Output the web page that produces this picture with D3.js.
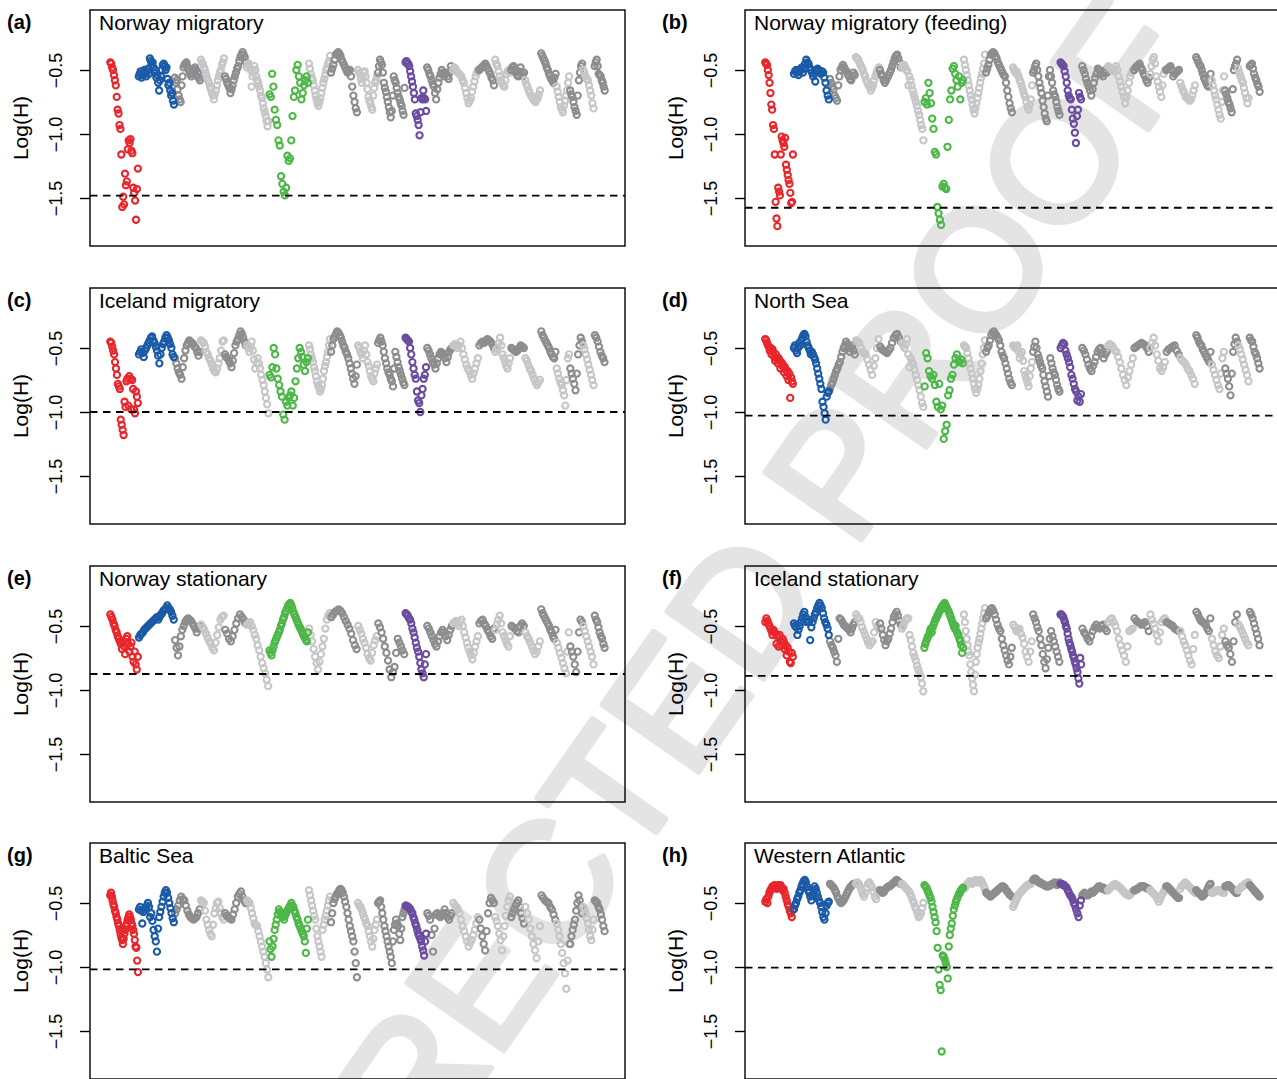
<!DOCTYPE html>
<html><head><meta charset="utf-8">
<script src="https://cdn.jsdelivr.net/npm/d3@7"></script>
<style>body{margin:0;background:#fff}svg{display:block}text{font-family:"Liberation Sans",Arial,Helvetica,sans-serif}</style>
</head><body>
<svg id="chart" width="1277" height="1079"></svg>
<script>
// chromosome (linkage group) lengths, LG1..LG23
const chromLen = [28.5,36,26,24,22,22.5,39.5,22,27,20,27.5,21.5,26,26,16,16,14,16,15.5,13.5,13,11.5,11];
const yTicks = [-0.5,-1.0,-1.5];
const panelIds = ["(a)","(b)","(c)","(d)","(e)","(f)","(g)","(h)"];
const panelTitles = ["Norway migratory","Norway migratory (feeding)","Iceland migratory","North Sea","Norway stationary","Iceland stationary","Baltic Sea","Western Atlantic"];
const thresholds = [-1.482,-1.576,-1.0,-1.029,-0.875,-0.89,-1.018,-1.005];

const panelA = [
[-.44,-.45,-.48,-.50,-.54,-.58,-.62,-.71,-.81,-.84,-.93,-.96,-1.16,-1.57,-1.49,-1.55,-1.31,-1.40,-1.37,-1.12,-1.05,-1.07,-1.04,-1.13,-1.15,-1.42,-1.46,-1.52,-1.67,-1.43,-1.27],
[-.55,-.53,-.51,-.56,-.54,-.52,-.50,-.53,-.55,-.51,-.49,-.53,-.41,-.43,-.46,-.44,-.48,-.52,-.50,-.56,-.54,-.60,-.66,-.58,-.55,-.50,-.46,-.45,-.47,-.50,-.48,-.57,-.62,-.60,-.66,-.70,-.68,-.74,-.77],
[-.56,-.60,-.58,-.65,-.70,-.73,-.75,-.62,-.55,-.48,-.46,-.45,-.44,-.47,-.49,-.51,-.53,-.55,-.53,-.50,-.52,-.48,-.50,-.55,-.52,-.56,-.58],
[-.42,-.44,-.45,-.48,-.50,-.53,-.56,-.58,-.60,-.63,-.65,-.68,-.70,-.73,-.69,-.66,-.62,-.58,-.55,-.52,-.50,-.46,-.44,-.41],
[-.55,-.57,-.60,-.62,-.64,-.68,-.65,-.62,-.58,-.55,-.52,-.49,-.47,-.43,-.40,-.38,-.36,-.38,-.40,-.44],
[-.48,-.46,-.45,-.48,-.50,-.63,-.55,-.52,-.47,-.50,-.55,-.58,-.60,-.63,-.66,-.70,-.72,-.76,-.80,-.83,-.86,-.90,-.94,-.90],
[-.69,-.71,-.53,-.63,-.81,-.89,-.93,-1.05,-1.09,-1.33,-1.39,-1.45,-1.48,-1.42,-1.17,-1.21,-1.19,-1.05,-.86,-.71,-.66,-.50,-.46,-.55,-.60,-.73,-.68,-.62,-.58,-.55,-.60],
[-.45,-.49,-.53,-.56,-.58,-.62,-.66,-.70,-.73,-.76,-.78,-.75,-.72,-.68,-.64,-.60,-.57,-.54,-.50,-.48,-.45,-.43,-.39],
[-.52,-.49,-.46,-.42,-.38,-.37,-.36,-.37,-.39,-.42,-.44,-.46,-.48,-.50,-.52,-.51,-.50,-.55,-.63,-.70,-.75,-.80,-.83],
[-.50,-.52,-.53,-.57,-.60,-.55,-.52,-.51,-.55,-.60,-.65,-.71,-.74,-.76,-.79,-.81,-.70,-.64,-.60,-.58,-.55],
[-.52,-.47,-.42,-.44,-.46,-.52,-.60,-.64,-.67,-.71,-.75,-.79,-.83,-.87,-.82,-.70,-.55,-.58,-.60,-.64,-.68,-.71,-.73,-.76,-.78,-.82,-.85,-.64],
[-.44,-.43,-.45,-.45,-.47,-.51,-.55,-.59,-.63,-.68,-.73,-.84,-.86,-.89,-.93,-1.01,-.83,-.72,-.73,-.66,-.72,-.73,-.82],
[-.48,-.50,-.53,-.55,-.58,-.61,-.63,-.68,-.73,-.65,-.60,-.56,-.53,-.50,-.52,-.55,-.53,-.52,-.55,-.57,-.52,-.47,-.50],
[-.50,-.48,-.49,-.51,-.52,-.53,-.54,-.55,-.58,-.60,-.64,-.68,-.72,-.76,-.74,-.72,-.67,-.63,-.59,-.55,-.52,-.50],
[-.50,-.49,-.48,-.47,-.46,-.45,-.47,-.49,-.51,-.53,-.56,-.58,-.62],
[-.42,-.45,-.47,-.51,-.55,-.58,-.60,-.62,-.63,-.58,-.53,-.51,-.50,-.52],
[-.50,-.48,-.47,-.50,-.52,-.54,-.55,-.51,-.48,-.52,-.55,-.52],
[-.58,-.61,-.63,-.66,-.68,-.70,-.71,-.73,-.74,-.75,-.73,-.72,-.69,-.66],
[-.37,-.39,-.41,-.43,-.45,-.48,-.50,-.53,-.55,-.57,-.58,-.60,-.56,-.53],
[-.63,-.67,-.71,-.75,-.79,-.81,-.83,-.78,-.74,-.70,-.66,-.60,-.55],
[-.66,-.69,-.71,-.75,-.79,-.82,-.85,-.70,-.58,-.52,-.47,-.45],
[-.50,-.52,-.55,-.57,-.58,-.62,-.66,-.70,-.76,-.80],
[-.47,-.44,-.42,-.47,-.53,-.54,-.55,-.58,-.60,-.63,-.66]];

const panelB = [
[-.44,-.45,-.46,-.50,-.54,-.60,-.68,-.77,-.81,-.93,-.96,-1.16,-1.53,-1.66,-1.72,-1.42,-1.45,-1.48,-1.16,-1.02,-1.05,-1.07,-1.10,-1.03,-1.24,-1.28,-1.32,-1.36,-1.39,-1.46,-1.54,-1.53,-1.16],
[-.53,-.51,-.50,-.52,-.54,-.51,-.50,-.48,-.52,-.49,-.45,-.42,-.44,-.45,-.48,-.50,-.52,-.55,-.53,-.59,-.51,-.49,-.50,-.52,-.53,-.51,-.52,-.56,-.60,-.66,-.70,-.73],
[-.57,-.60,-.63,-.65,-.70,-.72,-.74,-.62,-.55,-.50,-.48,-.46,-.48,-.50,-.51,-.53,-.55,-.57,-.58,-.55,-.52,-.54],
[-.40,-.41,-.42,-.44,-.46,-.48,-.50,-.53,-.55,-.58,-.60,-.62,-.63,-.66,-.64,-.62,-.58,-.55,-.52,-.50,-.48],
[-.50,-.53,-.55,-.58,-.60,-.58,-.56,-.54,-.52,-.50,-.47,-.44,-.41,-.39,-.38,-.41,-.44,-.48],
[-.48,-.47,-.46,-.48,-.50,-.51,-.62,-.55,-.58,-.62,-.66,-.69,-.72,-.75,-.78,-.82,-.85,-.89,-.93,-.96,-1.05],
[-.75,-.72,-.77,-.60,-.68,-.76,-.88,-.96,-1.14,-1.16,-1.57,-1.62,-1.67,-1.71,-1.41,-1.39,-1.42,-1.43,-1.10,-.89,-.73,-.66,-.49,-.47,-.53,-.58,-.63,-.55,-.73,-.60,-.58],
[-.42,-.46,-.50,-.54,-.58,-.62,-.66,-.70,-.73,-.77,-.81,-.84,-.80,-.76,-.72,-.68,-.64,-.60,-.56,-.53,-.49,-.45,-.38],
[-.52,-.49,-.46,-.42,-.38,-.37,-.36,-.37,-.39,-.41,-.44,-.46,-.48,-.50,-.52,-.54,-.55,-.60,-.66,-.71,-.76,-.80,-.83],
[-.48,-.50,-.52,-.51,-.53,-.55,-.58,-.60,-.63,-.66,-.69,-.71,-.75,-.79,-.81,-.77,-.73,-.62],
[-.52,-.50,-.47,-.45,-.50,-.55,-.60,-.64,-.68,-.74,-.79,-.84,-.88,-.90,-.70,-.55,-.50,-.55,-.60,-.66,-.69,-.71,-.75,-.79,-.82,-.85],
[-.44,-.45,-.46,-.47,-.51,-.55,-.60,-.66,-.70,-.72,-.73,-.81,-.88,-.92,-.99,-1.07,-.86,-.81,-.68,-.71,-.73],
[-.47,-.50,-.53,-.57,-.60,-.63,-.66,-.70,-.65,-.60,-.56,-.53,-.49,-.50,-.51,-.53,-.55,-.52,-.50,-.52],
[-.47,-.48,-.49,-.50,-.51,-.49,-.47,-.50,-.55,-.59,-.63,-.67,-.71,-.76,-.71,-.66,-.60,-.55,-.52,-.50],
[-.50,-.48,-.47,-.46,-.45,-.48,-.50,-.53,-.55,-.58,-.60,-.56],
[-.53,-.47,-.42,-.40,-.45,-.55,-.59,-.63,-.67,-.71,-.62,-.53,-.50],
[-.50,-.49,-.48,-.47,-.50,-.55,-.53,-.52,-.51,-.50],
[-.60,-.63,-.66,-.68,-.71,-.72,-.73,-.74,-.73,-.70,-.66,-.62],
[-.40,-.42,-.44,-.46,-.47,-.50,-.53,-.56,-.58,-.60,-.62,-.63,-.58,-.53],
[-.58,-.62,-.66,-.70,-.73,-.77,-.81,-.85,-.88,-.75,-.66,-.55],
[-.66,-.69,-.72,-.75,-.77,-.80,-.83,-.65,-.50,-.47,-.45,-.42],
[-.49,-.52,-.55,-.58,-.60,-.64,-.68,-.72,-.76,-.72],
[-.47,-.46,-.45,-.49,-.53,-.56,-.58,-.61,-.63,-.67]];

const panelC = [
[-.45,-.46,-.49,-.52,-.55,-.61,-.66,-.71,-.78,-.80,-.82,-1.06,-1.10,-1.14,-1.18,-.92,-.96,-.76,-.74,-.95,-.72,-.74,-.98,-.75,-.82,-.98,-1.01,-.84,-.88,-.93],
[-.55,-.53,-.51,-.54,-.57,-.52,-.50,-.48,-.46,-.44,-.42,-.41,-.44,-.46,-.49,-.52,-.56,-.62,-.55,-.50,-.47,-.45,-.42,-.40,-.42,-.44,-.47,-.50,-.55,-.57],
[-.58,-.62,-.66,-.69,-.71,-.74,-.65,-.58,-.52,-.48,-.46,-.44,-.45,-.46,-.47,-.49,-.50,-.53,-.56,-.53],
[-.44,-.45,-.46,-.49,-.53,-.55,-.58,-.60,-.63,-.66,-.68,-.69,-.66,-.62,-.58,-.52,-.45,-.44],
[-.55,-.57,-.58,-.60,-.62,-.65,-.60,-.54,-.48,-.45,-.43,-.40,-.37,-.39,-.42,-.45,-.48],
[-.48,-.50,-.53,-.49,-.45,-.52,-.59,-.66,-.62,-.58,-.62,-.66,-.71,-.75,-.79,-.84,-.89,-.94,-1.01],
[-.71,-.73,-.65,-.50,-.55,-.66,-.74,-.79,-.84,-.88,-1.02,-1.06,-.92,-.95,-.89,-.87,-.84,-.95,-.89,-.76,-.66,-.58,-.50,-.53,-.57,-.63,-.68,-.61,-.58],
[-.48,-.51,-.55,-.58,-.61,-.65,-.68,-.72,-.76,-.79,-.81,-.84,-.82,-.79,-.74,-.68,-.64,-.61,-.57,-.53,-.48,-.43],
[-.53,-.48,-.43,-.41,-.39,-.37,-.38,-.40,-.42,-.45,-.48,-.50,-.53,-.55,-.58,-.62,-.66,-.70,-.74,-.78,-.72,-.63],
[-.48,-.50,-.53,-.55,-.58,-.52,-.48,-.55,-.61,-.64,-.68,-.72,-.74,-.76,-.70,-.66,-.63],
[-.46,-.44,-.42,-.45,-.48,-.53,-.58,-.62,-.66,-.69,-.71,-.74,-.76,-.80,-.66,-.53,-.57,-.61,-.65,-.68,-.71,-.74,-.77,-.79],
[-.42,-.43,-.44,-.45,-.50,-.55,-.61,-.66,-.71,-.74,-.84,-.91,-.93,-1.00,-.87,-.82,-.74,-.71,-.65],
[-.50,-.52,-.55,-.58,-.61,-.63,-.66,-.62,-.58,-.55,-.53,-.54,-.55,-.58,-.61,-.57,-.53,-.51,-.50],
[-.48,-.47,-.48,-.50,-.48,-.45,-.50,-.55,-.59,-.63,-.66,-.68,-.71,-.74,-.70,-.66,-.62,-.58],
[-.48,-.46,-.45,-.46,-.45,-.43,-.44,-.45,-.47,-.50],
[-.53,-.51,-.50,-.46,-.42,-.48,-.55,-.58,-.61,-.64,-.66,-.62,-.58],
[-.50,-.51,-.52,-.53,-.52,-.50,-.48,-.49,-.50],
[-.58,-.60,-.63,-.66,-.68,-.71,-.74,-.77,-.79,-.77,-.75],
[-.37,-.40,-.42,-.44,-.46,-.48,-.50,-.53,-.55,-.57,-.58,-.53],
[-.66,-.70,-.74,-.77,-.79,-.83,-.87,-.95,-.75,-.58,-.55],
[-.66,-.70,-.74,-.78,-.83,-.70,-.55,-.48,-.42,-.45],
[-.48,-.51,-.55,-.59,-.63,-.67,-.71,-.75,-.79],
[-.40,-.42,-.45,-.49,-.53,-.56,-.58,-.61]];

const panelD = [
[-.43,-.44,-.46,-.48,-.49,-.52,-.50,-.55,-.51,-.53,-.57,-.60,-.55,-.58,-.62,-.58,-.60,-.66,-.61,-.64,-.63,-.69,-.65,-.67,-.72,-.68,-.75,-.70,-.89,-.73,-.76,-.78],
[-.50,-.48,-.52,-.54,-.50,-.46,-.48,-.44,-.42,-.40,-.39,-.41,-.45,-.48,-.50,-.52,-.55,-.53,-.55,-.57,-.59,-.62,-.66,-.70,-.74,-.78,-.82,-.92,-.96,-1.01,-1.06,-.88,-.85,-.84],
[-.82,-.79,-.77,-.74,-.71,-.68,-.66,-.63,-.61,-.57,-.53,-.50,-.48,-.45,-.47,-.50,-.53,-.50,-.48,-.52,-.55],
[-.44,-.45,-.46,-.50,-.53,-.54,-.55,-.59,-.63,-.67,-.71,-.64,-.58,-.50,-.43],
[-.49,-.51,-.52,-.53,-.54,-.52,-.50,-.46,-.42,-.40,-.39,-.42,-.45],
[-.46,-.48,-.50,-.47,-.43,-.55,-.65,-.58,-.61,-.63,-.67,-.71,-.75,-.79,-.83,-.88,-.93,-.96],
[-.80,-.54,-.58,-.68,-.72,-.74,-.71,-.79,-.92,-.96,-.78,-.98,-.95,-1.21,-1.15,-1.10,-.87,-.83,-.74,-.71,-.63,-.58,-.55,-.60,-.61,-.59,-.62],
[-.48,-.49,-.50,-.54,-.58,-.62,-.66,-.70,-.74,-.78,-.82,-.85,-.82,-.79,-.74,-.68,-.62,-.55,-.50,-.44],
[-.53,-.50,-.48,-.44,-.40,-.38,-.37,-.39,-.40,-.42,-.44,-.48,-.53,-.56,-.58,-.62,-.66,-.70,-.74,-.77,-.79],
[-.48,-.49,-.50,-.49,-.48,-.53,-.58,-.55,-.53,-.60,-.68,-.71,-.74,-.77,-.80,-.72,-.66,-.61],
[-.53,-.49,-.45,-.50,-.55,-.58,-.61,-.64,-.66,-.71,-.76,-.80,-.84,-.88,-.72,-.58,-.62,-.66,-.69,-.71,-.75,-.79,-.82,-.84],
[-.50,-.48,-.46,-.47,-.52,-.55,-.58,-.61,-.65,-.71,-.74,-.78,-.82,-.84,-.91,-.88,-.92,-.86],
[-.50,-.52,-.55,-.59,-.63,-.66,-.68,-.64,-.61,-.57,-.53,-.51,-.50,-.54,-.58,-.55,-.53],
[-.48,-.47,-.48,-.50,-.52,-.53,-.57,-.61,-.66,-.71,-.75,-.79,-.73,-.68,-.63,-.58],
[-.50,-.49,-.48,-.47,-.46,-.47,-.48,-.50,-.53],
[-.50,-.46,-.42,-.48,-.55,-.60,-.66,-.68,-.65,-.61],
[-.53,-.51,-.50,-.49,-.48,-.52,-.55],
[-.58,-.60,-.61,-.63,-.66,-.68,-.71,-.74,-.78],
[-.40,-.42,-.45,-.47,-.48,-.51,-.53,-.55,-.57,-.59,-.61,-.53],
[-.63,-.67,-.71,-.75,-.79,-.82,-.70,-.58,-.53],
[-.66,-.70,-.74,-.80,-.87,-.70,-.53,-.47,-.42,-.45],
[-.48,-.51,-.55,-.59,-.63,-.67,-.71,-.76],
[-.42,-.44,-.45,-.49,-.53,-.55,-.58,-.62,-.66]];

const panelE = [
[-.41,-.43,-.45,-.48,-.50,-.53,-.55,-.58,-.60,-.62,-.64,-.68,-.62,-.66,-.72,-.60,-.58,-.64,-.70,-.66,-.63,-.74,-.78,-.70,-.80,-.84,-.74],
[-.59,-.57,-.56,-.55,-.53,-.52,-.51,-.50,-.49,-.48,-.47,-.46,-.45,-.44,-.43,-.45,-.43,-.41,-.40,-.38,-.37,-.36,-.34,-.36,-.37,-.39,-.42,-.45],
[-.61,-.67,-.73,-.66,-.58,-.53,-.50,-.47,-.45,-.44,-.45,-.46,-.48,-.50,-.52,-.55,-.52,-.50],
[-.49,-.51,-.53,-.56,-.59,-.62,-.64,-.67,-.69,-.63,-.57,-.51,-.45,-.43,-.42],
[-.53,-.56,-.60,-.62,-.58,-.53,-.48,-.44,-.41,-.43,-.45,-.48],
[-.49,-.48,-.47,-.50,-.53,-.57,-.60,-.65,-.69,-.74,-.79,-.83,-.87,-.92,-.97],
[-.69,-.71,-.73,-.69,-.66,-.63,-.61,-.59,-.57,-.55,-.53,-.50,-.48,-.45,-.43,-.40,-.38,-.36,-.34,-.33,-.32,-.34,-.36,-.39,-.41,-.43,-.45,-.47,-.49,-.51,-.52,-.54,-.56,-.58,-.59,-.61,-.62,-.55],
[-.52,-.57,-.62,-.68,-.74,-.79,-.84,-.78,-.72,-.66,-.60,-.52,-.45,-.42,-.40],
[-.43,-.41,-.39,-.38,-.37,-.38,-.40,-.43,-.46,-.49,-.52,-.56,-.61,-.65,-.68],
[-.50,-.53,-.56,-.60,-.63,-.67,-.72,-.75,-.77,-.71,-.65,-.61,-.58],
[-.48,-.51,-.55,-.60,-.66,-.71,-.77,-.84,-.90,-.86,-.82,-.71,-.60,-.63,-.66,-.69,-.72],
[-.40,-.41,-.42,-.44,-.45,-.48,-.52,-.55,-.59,-.63,-.67,-.70,-.74,-.79,-.84,-.87,-.90,-.80,-.72],
[-.50,-.52,-.55,-.58,-.61,-.64,-.66,-.62,-.58,-.55,-.53,-.55,-.58,-.61,-.57,-.53,-.50],
[-.48,-.47,-.46,-.48,-.50,-.47,-.45,-.50,-.55,-.59,-.63,-.67,-.70,-.73,-.76,-.71,-.66,-.62,-.58],
[-.48,-.46,-.45,-.48,-.50,-.53,-.55,-.58,-.60,-.52],
[-.53,-.49,-.45,-.42,-.48,-.55,-.58,-.61,-.64,-.66,-.58],
[-.50,-.51,-.52,-.54,-.55,-.50,-.48,-.50],
[-.55,-.58,-.60,-.63,-.66,-.69,-.72,-.70,-.66,-.62],
[-.37,-.40,-.42,-.44,-.46,-.48,-.50,-.53,-.55,-.58,-.60,-.53],
[-.63,-.67,-.71,-.75,-.79,-.83,-.87,-.70,-.55],
[-.66,-.70,-.74,-.80,-.86,-.70,-.55,-.45,-.47],
[-.50,-.54,-.58,-.62,-.66,-.70,-.74,-.80],
[-.42,-.45,-.47,-.51,-.55,-.58,-.60,-.64,-.67]];

const panelF = [
[-.47,-.44,-.46,-.48,-.50,-.52,-.54,-.57,-.53,-.55,-.56,-.64,-.58,-.66,-.57,-.62,-.65,-.60,-.62,-.68,-.65,-.73,-.67,-.70,-.78,-.79,-.71,-.74],
[-.48,-.50,-.51,-.57,-.53,-.50,-.47,-.44,-.41,-.39,-.43,-.47,-.45,-.47,-.61,-.51,-.47,-.44,-.41,-.39,-.36,-.34,-.32,-.34,-.36,-.40,-.44,-.47,-.49,-.52,-.57],
[-.62,-.65,-.67,-.70,-.73,-.78,-.60,-.44,-.45,-.47,-.49,-.50,-.51,-.52,-.53,-.55,-.52,-.49,-.47],
[-.41,-.43,-.44,-.47,-.51,-.54,-.57,-.60,-.63,-.65,-.63,-.62,-.55,-.47,-.50,-.52],
[-.48,-.52,-.57,-.61,-.65,-.62,-.60,-.56,-.52,-.47,-.43,-.41,-.39,-.42,-.46,-.49],
[-.52,-.50,-.47,-.45,-.44,-.44,-.57,-.61,-.66,-.71,-.74,-.77,-.81,-.84,-.87,-.90,-.95,-1.01],
[-.67,-.64,-.62,-.60,-.58,-.57,-.54,-.52,-.55,-.51,-.49,-.47,-.45,-.44,-.42,-.41,-.39,-.38,-.36,-.35,-.34,-.33,-.32,-.34,-.35,-.37,-.38,-.40,-.42,-.44,-.46,-.48,-.50,-.52,-.50,-.54,-.56,-.57,-.60,-.62,-.65,-.71,-.67],
[-.41,-.47,-.54,-.60,-.65,-.70,-.73,-.80,-.86,-.91,-.96,-1.01,-.88,-.78,-.72,-.67,-.63,-.60,-.56,-.52,-.48,-.44,-.40,-.36],
[-.44,-.42,-.39,-.37,-.36,-.38,-.41,-.45,-.49,-.52,-.54,-.60,-.65,-.69,-.73,-.77,-.80,-.74,-.67],
[-.49,-.51,-.54,-.53,-.52,-.56,-.59,-.64,-.70,-.74,-.78,-.70,-.62],
[-.41,-.44,-.47,-.51,-.54,-.60,-.65,-.72,-.78,-.83,-.76,-.67,-.60,-.54,-.58,-.62,-.66,-.70,-.74,-.78],
[-.41,-.41,-.42,-.43,-.45,-.47,-.50,-.52,-.56,-.60,-.63,-.65,-.68,-.70,-.73,-.75,-.78,-.80,-.83,-.86,-.91,-.95,-.75,-.80],
[-.52,-.55,-.57,-.60,-.62,-.58,-.54,-.51,-.49,-.51,-.52,-.50,-.49,-.52,-.54],
[-.47,-.45,-.44,-.47,-.50,-.54,-.60,-.65,-.69,-.73,-.78,-.66,-.54,-.53,-.52],
[-.44,-.46,-.47,-.48,-.49,-.48,-.47,-.50,-.54],
[-.41,-.45,-.48,-.52,-.57,-.62,-.55,-.47,-.45,-.44],
[-.47,-.48,-.49,-.50,-.52,-.53,-.54],
[-.54,-.58,-.62,-.65,-.69,-.73,-.77,-.80,-.68,-.57],
[-.39,-.41,-.44,-.46,-.47,-.48,-.49,-.52,-.54,-.44],
[-.60,-.65,-.70,-.73,-.75,-.66,-.57,-.52],
[-.62,-.65,-.67,-.72,-.78,-.62,-.47,-.41],
[-.49,-.51,-.54,-.57,-.60,-.63,-.65],
[-.39,-.41,-.44,-.48,-.52,-.56,-.60,-.65]];

const panelG = [
[-.44,-.42,-.45,-.48,-.51,-.53,-.56,-.58,-.61,-.63,-.66,-.68,-.71,-.74,-.77,-.79,-.82,-.78,-.74,-.71,-.68,-.66,-.63,-.61,-.59,-.61,-.63,-.66,-.68,-.71,-.74,-.79,-.84,-.85,-.95,-1.04],
[-.55,-.53,-.56,-.66,-.57,-.55,-.54,-.52,-.50,-.53,-.61,-.58,-.64,-.71,-.76,-.80,-.88,-.70,-.61,-.57,-.53,-.49,-.45,-.42,-.40,-.42,-.46,-.50,-.54,-.58,-.62,-.65],
[-.58,-.55,-.52,-.48,-.45,-.47,-.48,-.52,-.56,-.59,-.61,-.62,-.63,-.62,-.61,-.58,-.55],
[-.48,-.49,-.50,-.56,-.63,-.67,-.71,-.74,-.76,-.67,-.58,-.54,-.50,-.49,-.54,-.58,-.61,-.63],
[-.58,-.60,-.61,-.62,-.63,-.59,-.55,-.50,-.45,-.43,-.41,-.45,-.48,-.50],
[-.48,-.49,-.50,-.54,-.58,-.62,-.66,-.67,-.68,-.72,-.76,-.80,-.84,-.88,-.92,-.97,-1.02,-1.08],
[-.80,-.86,-.92,-.84,-.78,-.71,-.67,-.63,-.59,-.55,-.57,-.58,-.60,-.61,-.63,-.60,-.58,-.56,-.55,-.53,-.52,-.50,-.52,-.53,-.56,-.58,-.61,-.63,-.66,-.68,-.70,-.72,-.74,-.76,-.80,-.89,-.70,-.63],
[-.40,-.44,-.48,-.52,-.56,-.60,-.63,-.70,-.76,-.80,-.84,-.88,-.92,-.71,-.67,-.63,-.60,-.56,-.52,-.48,-.45],
[-.65,-.58,-.50,-.47,-.45,-.43,-.42,-.40,-.39,-.40,-.42,-.45,-.49,-.53,-.58,-.63,-.68,-.72,-.76,-.80,-.88,-.97,-1.08],
[-.50,-.52,-.53,-.55,-.58,-.61,-.63,-.66,-.68,-.72,-.76,-.80,-.84,-.78,-.71,-.67,-.63],
[-.50,-.49,-.48,-.53,-.58,-.63,-.68,-.72,-.76,-.80,-.84,-.88,-.92,-.97,-.80,-.71,-.67,-.63,-.66,-.68,-.74,-.79,-.70,-.61,-.58,-.55],
[-.52,-.52,-.53,-.53,-.54,-.55,-.57,-.58,-.61,-.63,-.66,-.68,-.71,-.74,-.76,-.78,-.80,-.84,-.87,-.91,-.80,-.74],
[-.58,-.60,-.63,-.75,-.88,-.70,-.59,-.58,-.60,-.61,-.59,-.58,-.55,-.58,-.61,-.63,-.60,-.58],
[-.50,-.52,-.53,-.55,-.58,-.63,-.68,-.72,-.76,-.80,-.84,-.81,-.79,-.75,-.71,-.66,-.61],
[-.63,-.70,-.76,-.82,-.87,-.72,-.58,-.50,-.46,-.48,-.50],
[-.61,-.64,-.68,-.74,-.79,-.87,-.76,-.68,-.60,-.53,-.48,-.45],
[-.61,-.58,-.55,-.52,-.50,-.48,-.53,-.58,-.62,-.66],
[-.53,-.58,-.63,-.70,-.76,-.82,-.87,-.93,-.80,-.68],
[-.44,-.46,-.48,-.49,-.50,-.53,-.55,-.59,-.63],
[-.66,-.71,-.76,-.82,-.89,-.97,-1.05,-1.17,-.95,-.82],
[-.82,-.76,-.71,-.67,-.63,-.56,-.50,-.44,-.48,-.53,-.58],
[-.53,-.55,-.58,-.62,-.66,-.71,-.76,-.79,-.71,-.63],
[-.48,-.49,-.50,-.53,-.55,-.59,-.63,-.68,-.72]];

const panelH = [
[-.49,-.47,-.50,-.45,-.42,-.40,-.39,-.37,-.38,-.36,-.37,-.39,-.36,-.38,-.37,-.36,-.38,-.40,-.39,-.42,-.45,-.48,-.51,-.53,-.56,-.58,-.61,-.55],
[-.55,-.52,-.50,-.47,-.45,-.42,-.40,-.37,-.35,-.33,-.32,-.34,-.37,-.40,-.42,-.45,-.48,-.44,-.40,-.37,-.39,-.42,-.45,-.48,-.50,-.53,-.57,-.61,-.63,-.58,-.52,-.50,-.49],
[-.35,-.36,-.37,-.38,-.40,-.42,-.45,-.47,-.49,-.50,-.49,-.48,-.46,-.44,-.42,-.40,-.38,-.37,-.36,-.35,-.35],
[-.35,-.34,-.35,-.37,-.40,-.43,-.45,-.42,-.38,-.35,-.34,-.36,-.38,-.41,-.45,-.47,-.43,-.40],
[-.40,-.41,-.42,-.41,-.39,-.38,-.37,-.37,-.36,-.35,-.34,-.33,-.32,-.33,-.34,-.35],
[-.35,-.36,-.37,-.38,-.39,-.40,-.41,-.43,-.45,-.48,-.50,-.53,-.55,-.58,-.61,-.60,-.58,-.54,-.50],
[-.36,-.37,-.38,-.40,-.42,-.44,-.46,-.49,-.53,-.57,-.61,-.65,-.72,-.85,-1.02,-1.14,-1.18,-1.66,-.91,-.92,-.94,-.97,-1.00,-1.09,-.84,-.75,-.70,-.66,-.60,-.55,-.52,-.49,-.47,-.45,-.43,-.42,-.40,-.39,-.38],
[-.39,-.38,-.36,-.35,-.34,-.33,-.34,-.35,-.34,-.33,-.32,-.33,-.34,-.33,-.32,-.33,-.35,-.37,-.39],
[-.42,-.43,-.44,-.45,-.44,-.43,-.42,-.41,-.40,-.39,-.38,-.37,-.37,-.38,-.40,-.41,-.43,-.44,-.45],
[-.53,-.51,-.49,-.47,-.45,-.43,-.42,-.41,-.40,-.39,-.38,-.37,-.36,-.36,-.35,-.35,-.34],
[-.32,-.31,-.31,-.32,-.33,-.34,-.34,-.35,-.35,-.36,-.36,-.37,-.37,-.37,-.36,-.36,-.35,-.35,-.34,-.35,-.36,-.35,-.34],
[-.35,-.35,-.36,-.36,-.37,-.38,-.40,-.42,-.44,-.45,-.47,-.50,-.52,-.55,-.58,-.61,-.52,-.48],
[-.44,-.43,-.42,-.43,-.44,-.44,-.43,-.42,-.41,-.42,-.41,-.40,-.39,-.38,-.37,-.37,-.38,-.39,-.38,-.39,-.40,-.40],
[-.40,-.39,-.38,-.37,-.36,-.36,-.35,-.36,-.37,-.37,-.38,-.39,-.40,-.41,-.42,-.43,-.43,-.44,-.44,-.43,-.42,-.41],
[-.40,-.40,-.39,-.39,-.38,-.37,-.37,-.37,-.37,-.38,-.38,-.39,-.39],
[-.40,-.41,-.42,-.43,-.44,-.45,-.47,-.49,-.47,-.45,-.43,-.41,-.40],
[-.37,-.37,-.38,-.39,-.40,-.41,-.42,-.43,-.44,-.45,-.46,-.46],
[-.39,-.37,-.36,-.35,-.34,-.35,-.36,-.37,-.38,-.39,-.40,-.41,-.42],
[-.40,-.41,-.42,-.43,-.44,-.45,-.44,-.43,-.42,-.40,-.38,-.36,-.35],
[-.42,-.42,-.41,-.41,-.40,-.40,-.40,-.41,-.41,-.42,-.42],
[-.37,-.37,-.36,-.36,-.37,-.38,-.39,-.40,-.41,-.42,-.42],
[-.40,-.39,-.38,-.37,-.37,-.36,-.35,-.35,-.34,-.34],
[-.36,-.37,-.38,-.39,-.40,-.41,-.42,-.43,-.44,-.45]];

const panels = [panelA,panelB,panelC,panelD,panelE,panelF,panelG,panelH];

const highlight = {0:"#E8262B",1:"#1B5AA7",6:"#4DB748",11:"#6B4C9F"};
const darkGray = "#8D8D8F", lightGray = "#C6C6C8";
const colorFor = k => (k in highlight) ? highlight[k] : (k % 2 === 0 ? darkGray : lightGray);

const svg = d3.select("#chart");
svg.append("rect").attr("width",1277).attr("height",1079).attr("fill","#fff");

// watermark
svg.append("text")
  .attr("transform","translate(585,830) rotate(-55)")
  .attr("text-anchor","middle").attr("dy","0.35em")
  .attr("font-size",170).attr("fill","#e4e4e4")
  .attr("stroke","#e4e4e4").attr("stroke-width",6).attr("stroke-linejoin","round")
  .text("UNCORRECTED PROOF");

const frameW = 535, frameH = 236;
const colX = [90, 745];
const rowY = [10, 288, 566, 843];

const total = d3.sum(chromLen);
const starts = []; chromLen.reduce((acc, l, i) => { starts[i] = acc; return acc + l; }, 0);
const x = d3.scaleLinear().domain([-0.04*total, 1.04*total]).range([0, frameW]);
const y = d3.scaleLinear().domain([-1.875, -0.03125]).range([frameH, 0]);

panels.forEach((data, p) => {
  const col = p % 2, row = Math.floor(p/2);
  const g = svg.append("g").attr("transform", `translate(${colX[col]},${rowY[row]})`);
  const pts = [];
  data.forEach((vals, k) => vals.forEach((v, i) => pts.push({pos: starts[k] + (i+0.5)*chromLen[k]/vals.length, v, k})));
  const ordered = pts.filter(d => !(d.k in highlight)).concat(pts.filter(d => d.k in highlight));
  g.append("g").selectAll("circle").data(ordered).join("circle")
    .attr("cx", d => x(d.pos)).attr("cy", d => y(d.v)).attr("r", 3.1)
    .attr("fill","none").attr("stroke", d => colorFor(d.k)).attr("stroke-width", 2.1);
  g.append("line").attr("x1",0).attr("x2",frameW)
    .attr("y1", y(thresholds[p])).attr("y2", y(thresholds[p]))
    .attr("stroke","#000").attr("stroke-width",1.8).attr("stroke-dasharray","7.5,5.5");
  g.append("rect").attr("width",frameW).attr("height",frameH)
    .attr("fill","none").attr("stroke","#000").attr("stroke-width",1.4);
  const ax = g.append("g").call(d3.axisLeft(y).tickValues(yTicks).tickSize(10).tickFormat(d3.format(".1f")));
  ax.select(".domain").remove();
  ax.selectAll(".tick line").attr("stroke","#000").attr("stroke-width",1.4);
  ax.selectAll(".tick text").attr("x",null).attr("dy",null)
    .attr("transform","translate(-28,0) rotate(-90)").attr("text-anchor","middle")
    .style("font-size","18px").style("font-family",'"Liberation Sans",Arial,sans-serif').attr("fill","#000");
  g.append("text").attr("x",-83).attr("y",19).attr("font-weight","bold").attr("font-size",20).text(panelIds[p]);
  g.append("text").attr("x",9).attr("y",20).attr("font-size",21).text(panelTitles[p]);
  g.append("text").attr("transform",`translate(-62,${frameH/2}) rotate(-90)`)
    .attr("text-anchor","middle").attr("font-size",21).text("Log(H)");
});
</script>
</body></html>
